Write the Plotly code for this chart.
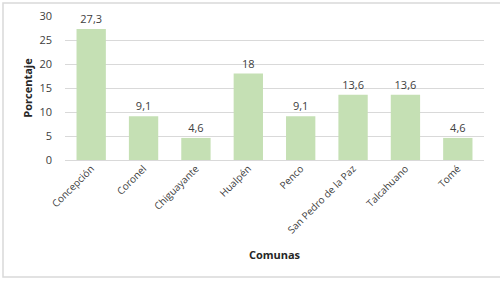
import plotly.graph_objects as go

comunas = ["Concepción", "Coronel", "Chiguayante", "Hualpén", "Penco",
           "San Pedro de la Paz", "Talcahuano", "Tomé"]
porcentaje = [27.3, 9.1, 4.6, 18, 9.1, 13.6, 13.6, 4.6]
etiquetas = ["27,3", "9,1", "4,6", "18", "9,1", "13,6", "13,6", "4,6"]
y_ticks = [0, 5, 10, 15, 20, 25, 30]

FONT = "Open Sans, Liberation Sans, sans-serif"
L, R, T, B = 65, 16, 16, 122
W, H = 500, 282
pw, ph = W - L - R, H - T - B

def px_x(x):
    return (x - L) / pw

def px_y(y):
    return (H - B - y) / ph

fig = go.Figure(go.Bar(
    x=comunas, y=porcentaje, text=etiquetas, textposition="outside",
    textfont=dict(size=11, color="#404040", family=FONT),
    marker=dict(color="#C5E0B4", line=dict(width=0)),
    cliponaxis=False, hoverinfo="skip",
))

fig.update_layout(
    width=W, height=H,
    margin=dict(l=L, r=R, t=T, b=B, autoexpand=False),
    paper_bgcolor="white", plot_bgcolor="white",
    bargap=0.44, showlegend=False,
    font=dict(family=FONT, color="#595959", size=10),
    xaxis=dict(tickangle=-45, tickfont=dict(size=10, color="#404040"),
               showgrid=False, zeroline=False, showline=False, ticks="",
               automargin=False,
               title=dict(text="<b>Comunas</b>", font=dict(size=11, color="#262626"),
                          standoff=15)),
    yaxis=dict(range=[0, 30], tickvals=y_ticks, showgrid=True,
               gridcolor="#D9D9D9", gridwidth=1, zeroline=True,
               zerolinecolor="#D9D9D9", zerolinewidth=1, showline=False,
               tickfont=dict(size=11, color="#404040"), automargin=False,
               ticklabelstandoff=12,
               title=dict(text="<b>Porcentaje</b>", font=dict(size=11, color="#262626"),
                          standoff=4)),
    shapes=[
        dict(type="rect", xref="paper", yref="paper",
             x0=px_x(3), x1=px_x(503), y0=px_y(277), y1=px_y(3),
             line=dict(color="#D9D9D9", width=1.5), fillcolor="rgba(0,0,0,0)",
             layer="below"),
    ],
)

fig.write_html("out.html", config={"displayModeBar": False},
               post_script="document.body.style.margin='0';")
